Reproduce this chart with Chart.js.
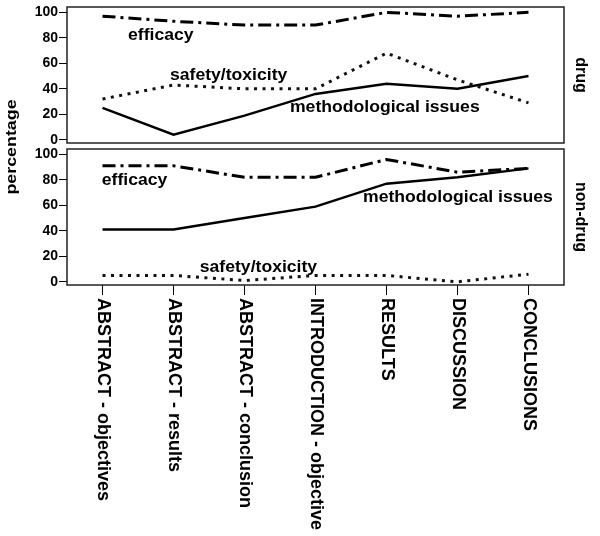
<!DOCTYPE html>
<html>
<head>
<meta charset="utf-8">
<script src="https://cdn.jsdelivr.net/npm/chart.js@4.4.1/dist/chart.umd.min.js"></script>
<style>
  html, body { margin: 0; padding: 0; background: #fff; }
  #wrap { position: relative; width: 600px; height: 536px; }
  #wrap canvas { position: absolute; left: 0; top: 0; }
</style>
</head>
<body>
<div id="wrap">
  <canvas id="drug" width="600" height="536"></canvas>
  <canvas id="nondrug" width="600" height="536"></canvas>
</div>
<script>
// article sections (x categories)
const sections = [
  'ABSTRACT - objectives', 'ABSTRACT - results', 'ABSTRACT - conclusion',
  'INTRODUCTION - objective', 'RESULTS', 'DISCUSSION', 'CONCLUSIONS'
];
const yTicks = [0, 20, 40, 60, 80, 100];
const yTitle = 'percentage';
const panelNames = ['drug', 'non-drug'];
const seriesNames = ['efficacy', 'safety/toxicity', 'methodological issues'];

// drug panel (%)
const drugEfficacy = [97, 93, 90, 90, 100, 97, 100];
const drugSafety = [32, 43, 40, 40, 68, 47, 29];
const drugMethod = [25, 4, 19, 36, 44, 40, 50];

// non-drug panel (%)
const nonDrugEfficacy = [91, 91, 82, 82, 96, 86, 89];
const nonDrugSafety = [5, 5, 1, 5, 5, 0, 6];
const nonDrugMethod = [41, 41, 50, 59, 77, 82, 89];

const FONT = '"Liberation Sans", Arial, sans-serif';

function drawText(ctx, str, x, y, opts) {
  ctx.save();
  ctx.translate(x, y);
  ctx.rotate(opts.angle || 0);
  ctx.scale(opts.stretch || 1, 1);
  ctx.font = opts.font;
  ctx.fillStyle = '#000';
  ctx.textAlign = opts.align || 'left';
  ctx.textBaseline = opts.baseline || 'alphabetic';
  ctx.fillText(str, 0, 0);
  ctx.restore();
}

// frame, series notes, panel name, and (bottom panel) rotated category labels
function makeDecor(cfg) {
  return {
    id: 'decor',
    beforeDatasetsDraw(chart) {
      const { ctx, chartArea: a } = chart;
      ctx.save();
      ctx.strokeStyle = '#222';
      ctx.lineWidth = 1.5;
      ctx.strokeRect(a.left, a.top, a.right - a.left, a.bottom - a.top);
      ctx.restore();
    },
    afterDatasetsDraw(chart) {
      const { ctx, chartArea: a } = chart;
      const xs = chart.scales.x, ys = chart.scales.y;
      cfg.notes.forEach(n => {
        drawText(ctx, n.text, xs.getPixelForValue(n.x), ys.getPixelForValue(n.y),
          { font: 'bold 16px ' + FONT, stretch: 1.1 });
      });
      drawText(ctx, cfg.name, a.right + 16, (a.top + a.bottom) / 2,
        { font: 'bold 16px ' + FONT, angle: Math.PI / 2, align: 'center', baseline: 'middle' });
      if (cfg.title) {
        drawText(ctx, cfg.title, 11.5, a.bottom + 4,
          { font: 'bold 15px ' + FONT, angle: -Math.PI / 2, align: 'center', baseline: 'middle', stretch: 1.19 });
      }
      if (cfg.xLabels) {
        sections.forEach((s, i) => {
          drawText(ctx, s, xs.getPixelForValue(i), xs.top + 13,
            { font: 'bold 18px ' + FONT, angle: Math.PI / 2, align: 'left', baseline: 'middle' });
        });
      }
    }
  };
}

function lineSet(values, kind) {
  const base = { data: values, borderColor: '#000', pointRadius: 0, tension: 0, fill: false, borderCapStyle: 'butt' };
  if (kind === 'dashdot') return Object.assign(base, { borderWidth: 3, borderDash: [13, 5, 3, 5] });
  if (kind === 'dot') return Object.assign(base, { borderWidth: 3, borderDash: [3, 5.5], borderColor: '#111' });
  return Object.assign(base, { borderWidth: 2.5 });
}

function yScale() {
  return {
    min: -2.5, max: 104.2,
    afterBuildTicks: s => { s.ticks = yTicks.map(v => ({ value: v })); },
    afterFit: s => { s.width = 67; s.paddingTop = 0; s.paddingBottom = 0; },
    grid: { drawOnChartArea: false, tickLength: 8, color: '#000', lineWidth: 1 },
    border: { display: false },
    ticks: { padding: 1, color: '#000', font: { family: FONT, size: 14, weight: 'bold' } }
  };
}

const common = {
  responsive: false,
  animation: false,
  events: [],
  plugins: { legend: { display: false }, tooltip: { enabled: false } }
};

new Chart(document.getElementById('drug'), {
  type: 'line',
  data: {
    labels: sections,
    datasets: [lineSet(drugEfficacy, 'dashdot'), lineSet(drugSafety, 'dot'), lineSet(drugMethod, 'solid')]
  },
  options: Object.assign({}, common, {
    layout: { padding: { left: 0, right: 36, top: 7, bottom: 393 } },
    scales: {
      x: { type: 'category', display: false, offset: true },
      y: yScale()
    }
  }),
  plugins: [makeDecor({
    name: panelNames[0],
    title: yTitle,
    notes: [
      { text: seriesNames[0], x: 0.36, y: 78 },
      { text: seriesNames[1], x: 0.95, y: 47 },
      { text: seriesNames[2], x: 2.64, y: 22 }
    ]
  })]
});

new Chart(document.getElementById('nondrug'), {
  type: 'line',
  data: {
    labels: sections,
    datasets: [lineSet(nonDrugEfficacy, 'dashdot'), lineSet(nonDrugSafety, 'dot'), lineSet(nonDrugMethod, 'solid')]
  },
  options: Object.assign({}, common, {
    layout: { padding: { left: 0, right: 36, top: 149, bottom: 0 } },
    scales: {
      x: {
        type: 'category', offset: true,
        afterFit: s => { s.height = 251; s.paddingLeft = 0; s.paddingRight = 0; },
        grid: { drawOnChartArea: false, tickLength: 10, color: '#000', lineWidth: 1 },
        border: { display: false },
        ticks: { display: false }
      },
      y: yScale()
    }
  }),
  plugins: [makeDecor({
    name: panelNames[1],
    xLabels: true,
    notes: [
      { text: seriesNames[0], x: -0.01, y: 76 },
      { text: seriesNames[1], x: 1.37, y: 8 },
      { text: seriesNames[2], x: 3.67, y: 63 }
    ]
  })]
});
</script>
</body>
</html>
